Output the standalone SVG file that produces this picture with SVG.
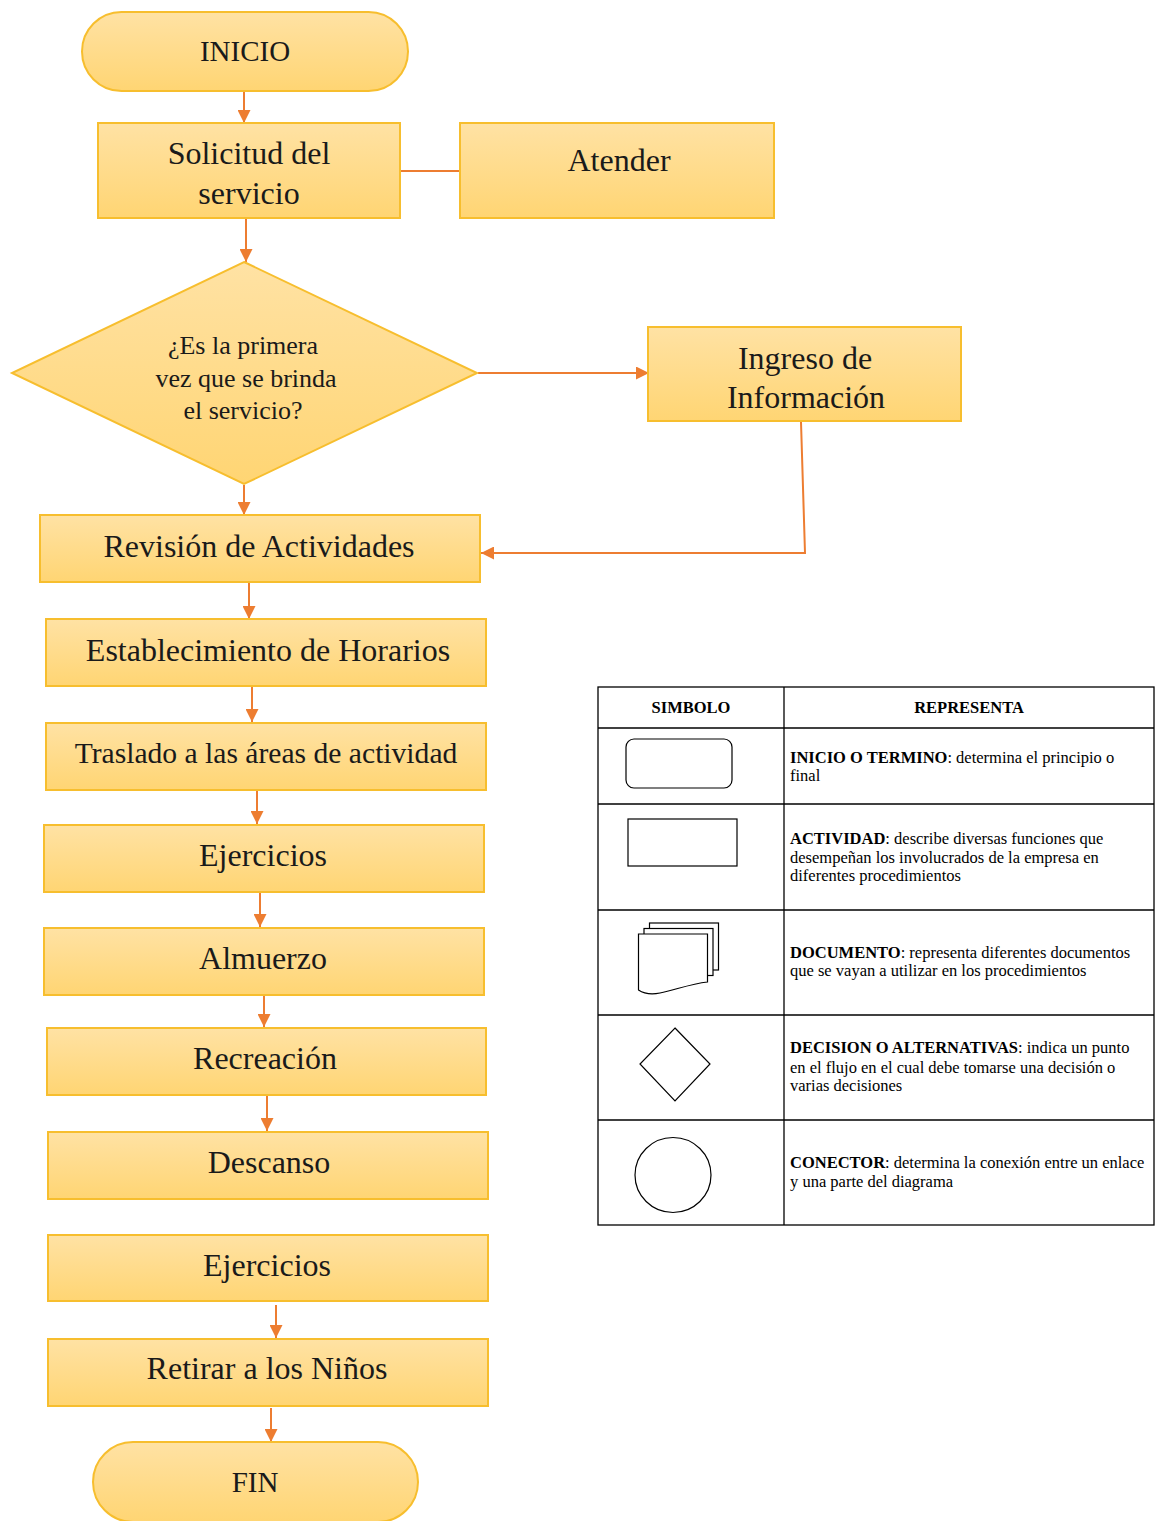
<svg xmlns="http://www.w3.org/2000/svg" width="1162" height="1521" viewBox="0 0 1162 1521">
<style>
.box{fill:url(#g);stroke:#F7BE2E;stroke-width:2}
.t{font-family:"Liberation Serif","Times New Roman",serif;font-size:32px;fill:#1a1a1a;text-anchor:middle}
.td{font-family:"Liberation Serif","Times New Roman",serif;font-size:26px;fill:#1a1a1a;text-anchor:middle}
.c{stroke:#ED7D31;stroke-width:2;fill:none}
.tb{stroke:#000;stroke-width:1.3;fill:none}
.sym{stroke:#000;stroke-width:1.2;fill:#fff}
.lt{font-family:"Liberation Serif","Times New Roman",serif;font-size:16.5px;fill:#000}
.b{font-weight:bold}
.h{font-family:"Liberation Serif","Times New Roman",serif;font-size:16.5px;font-weight:bold;fill:#000;text-anchor:middle}
</style>
<defs>
<linearGradient id="g" x1="0" y1="0" x2="0" y2="1">
<stop offset="0" stop-color="#FFE2A4"/>
<stop offset="1" stop-color="#FFD573"/>
</linearGradient>
<marker id="a" viewBox="0 0 10 10" refX="10" refY="5" markerWidth="6.5" markerHeight="6.5" markerUnits="strokeWidth" orient="auto">
<path d="M0,0 L10,5 L0,10 z" fill="#ED7D31"/>
</marker>
</defs>
<rect width="1162" height="1521" fill="#fff"/>

<g id="connectors">
<line class="c" x1="244" y1="92" x2="244" y2="123" marker-end="url(#a)"/>
<line class="c" x1="400" y1="171" x2="461" y2="171"/>
<line class="c" x1="246" y1="219" x2="246" y2="262" marker-end="url(#a)"/>
<line class="c" x1="478" y1="373" x2="649" y2="373" marker-end="url(#a)"/>
<polyline class="c" points="801,422 805,553 481,553" marker-end="url(#a)"/>
<line class="c" x1="244" y1="485" x2="244" y2="515" marker-end="url(#a)"/>
<line class="c" x1="249" y1="583" x2="249" y2="619" marker-end="url(#a)"/>
<line class="c" x1="252" y1="687" x2="252" y2="722" marker-end="url(#a)"/>
<line class="c" x1="257" y1="791" x2="257" y2="824" marker-end="url(#a)"/>
<line class="c" x1="260" y1="893" x2="260" y2="927" marker-end="url(#a)"/>
<line class="c" x1="264" y1="996" x2="264" y2="1027" marker-end="url(#a)"/>
<line class="c" x1="267" y1="1096" x2="267" y2="1131" marker-end="url(#a)"/>
<line class="c" x1="276" y1="1305" x2="276" y2="1338" marker-end="url(#a)"/>
<line class="c" x1="271" y1="1408" x2="271" y2="1442" marker-end="url(#a)"/>
</g>

<g id="inicio"><rect class="box" x="82" y="12" width="326" height="79" rx="39.5"/><text class="t" x="245" y="61" style="font-size:29px">INICIO</text></g>
<g id="solicitud"><rect class="box" x="98" y="123" width="302" height="95"/><text class="t" x="249" y="164">Solicitud del</text><text class="t" x="249" y="204">servicio</text></g>
<g id="atender"><rect class="box" x="460" y="123" width="314" height="95"/><text class="t" x="619" y="171">Atender</text></g>
<g id="decision"><polygon class="box" points="244,262 477,373 244,484 12,373"/><text class="td" x="243" y="354">¿Es la primera</text><text class="td" x="246" y="387">vez que se brinda</text><text class="td" x="243" y="419">el servicio?</text></g>
<g id="ingreso"><rect class="box" x="648" y="327" width="313" height="94"/><text class="t" x="805" y="369">Ingreso de</text><text class="t" x="806" y="408">Información</text></g>
<g id="revision"><rect class="box" x="40" y="515" width="440" height="67"/><text class="t" x="259" y="557">Revisión de Actividades</text></g>
<g id="establecimiento"><rect class="box" x="46" y="619" width="440" height="67"/><text class="t" x="268" y="661">Establecimiento de Horarios</text></g>
<g id="traslado"><rect class="box" x="46" y="723" width="440" height="67"/><text class="t" x="266" y="763" style="font-size:29.6px">Traslado a las áreas de actividad</text></g>
<g id="ejercicios1"><rect class="box" x="44" y="825" width="440" height="67"/><text class="t" x="263" y="866">Ejercicios</text></g>
<g id="almuerzo"><rect class="box" x="44" y="928" width="440" height="67"/><text class="t" x="263" y="969">Almuerzo</text></g>
<g id="recreacion"><rect class="box" x="47" y="1028" width="439" height="67"/><text class="t" x="265" y="1069">Recreación</text></g>
<g id="descanso"><rect class="box" x="48" y="1132" width="440" height="67"/><text class="t" x="269" y="1173">Descanso</text></g>
<g id="ejercicios2"><rect class="box" x="48" y="1235" width="440" height="66"/><text class="t" x="267" y="1276">Ejercicios</text></g>
<g id="retirar"><rect class="box" x="48" y="1339" width="440" height="67"/><text class="t" x="267" y="1379">Retirar a los Niños</text></g>
<g id="fin"><rect class="box" x="93" y="1442" width="325" height="80" rx="40"/><text class="t" x="255" y="1492" style="font-size:29px">FIN</text></g>

<g id="legend">
<rect class="tb" x="598" y="687" width="556" height="538"/>
<line class="tb" x1="784" y1="687" x2="784" y2="1225"/>
<line class="tb" x1="598" y1="728" x2="1154" y2="728"/>
<line class="tb" x1="598" y1="804" x2="1154" y2="804"/>
<line class="tb" x1="598" y1="910" x2="1154" y2="910"/>
<line class="tb" x1="598" y1="1015" x2="1154" y2="1015"/>
<line class="tb" x1="598" y1="1120" x2="1154" y2="1120"/>
<text class="h" x="691" y="713">SIMBOLO</text>
<text class="h" x="969" y="713">REPRESENTA</text>

<rect class="sym" x="626" y="739" width="106" height="49" rx="8"/>
<text class="lt" x="790" y="763"><tspan class="b">INICIO O TERMINO</tspan>: determina el principio o</text>
<text class="lt" x="790" y="781">final</text>

<rect class="sym" x="628" y="819" width="109" height="47"/>
<text class="lt" x="790" y="844"><tspan class="b">ACTIVIDAD</tspan>: describe diversas funciones que</text>
<text class="lt" x="790" y="863">desempeñan los involucrados de la empresa en</text>
<text class="lt" x="790" y="881">diferentes procedimientos</text>

<rect class="sym" x="649.5" y="923" width="69" height="47"/>
<rect class="sym" x="644" y="928.5" width="69" height="47"/>
<path class="sym" d="M638.5,934 H707.5 V982 C690,984 675,990 660,993 C650,995 643,993 638.5,990 Z"/>
<text class="lt" x="790" y="958"><tspan class="b">DOCUMENTO</tspan>: representa diferentes documentos</text>
<text class="lt" x="790" y="976">que se vayan a utilizar en los procedimientos</text>

<polygon class="sym" points="675,1028 710,1064 675,1101 640,1064"/>
<text class="lt" x="790" y="1053"><tspan class="b">DECISION O ALTERNATIVAS</tspan>: indica un punto</text>
<text class="lt" x="790" y="1073">en el flujo en el cual debe tomarse una decisión o</text>
<text class="lt" x="790" y="1091">varias decisiones</text>

<ellipse class="sym" cx="673" cy="1175" rx="38" ry="37.5"/>
<text class="lt" x="790" y="1168"><tspan class="b">CONECTOR</tspan>: determina la conexión entre un enlace</text>
<text class="lt" x="790" y="1187">y una parte del diagrama</text>
</g>
</svg>
